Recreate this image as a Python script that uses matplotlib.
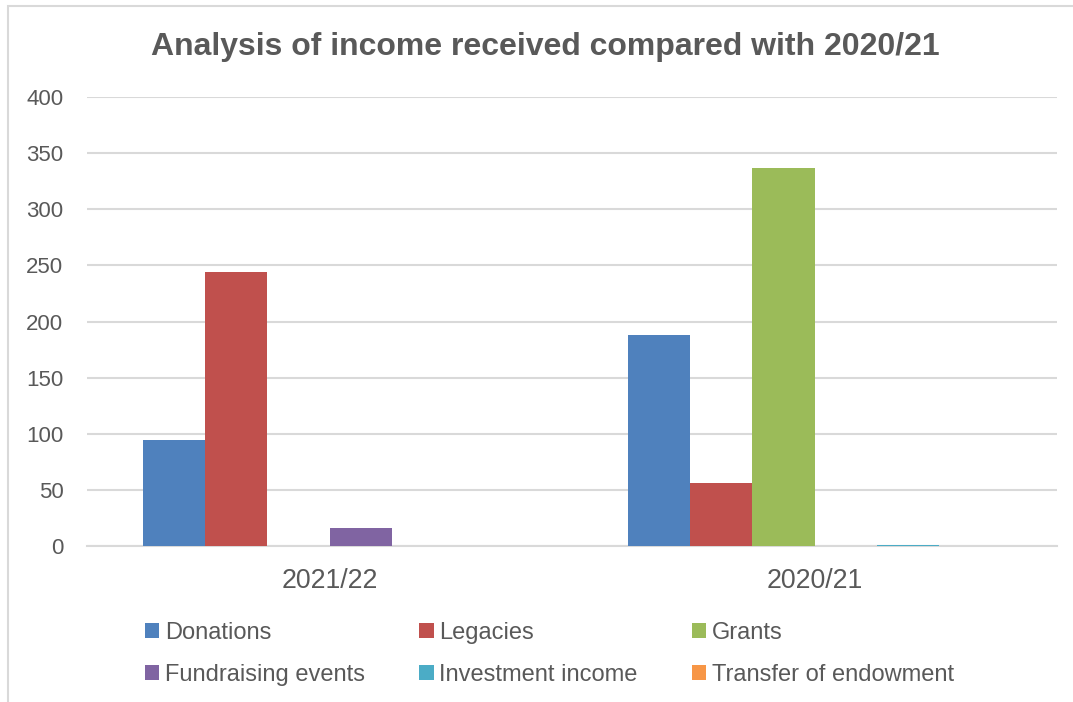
import numpy as np
import matplotlib
matplotlib.use("Agg")
import matplotlib.pyplot as plt
from matplotlib.patches import Rectangle

plt.rcParams['font.family'] = ['Liberation Sans', 'DejaVu Sans']

categories = ["2021/22", "2020/21"]
series = ["Donations", "Legacies", "Grants", "Fundraising events",
          "Investment income", "Transfer of endowment"]
donations = [94, 188]
legacies = [244, 56]
grants = [0, 337]
fundraising = [16, 0]
investment = [0, 1]
transfer = [0, 0]
colors = ["#4F81BD", "#C0504D", "#9BBB59", "#8064A2", "#4BACC6", "#F79646"]

values = [donations, legacies, grants, fundraising, investment, transfer]
text_col = "#595959"
grid_col = "#D9D9D9"

fig = plt.figure(figsize=(10.73, 7.02), dpi=100)
ax = fig.add_axes([87 / 1073, 1 - 546 / 702, 970 / 1073, 449 / 702])

x = np.arange(len(categories))
w = 0.1282
for i, (name, vals) in enumerate(zip(series, values)):
    ax.bar(x + (i - 2.5) * w, vals, width=w, color=colors[i], label=name,
           edgecolor='none', zorder=3)

ax.set_xlim(-0.5, 1.5)
ax.set_ylim(0, 400)
ax.set_yticks(np.arange(0, 401, 50))
ax.set_xticks(x)
ax.set_xticklabels(categories, fontsize=19.3, color=text_col)
ax.tick_params(axis='y', labelsize=16, labelcolor=text_col, length=0, pad=17)
ax.tick_params(axis='x', length=0, pad=16)
ax.grid(axis='y', color=grid_col, linewidth=1.5, zorder=0)
for s in ['top', 'right', 'left']:
    ax.spines[s].set_visible(False)
ax.spines['bottom'].set_color(grid_col)
ax.spines['bottom'].set_linewidth(1.5)

fig.text(545 / 1073, 1 - 47 / 702, "Analysis of income received compared with 2020/21",
         ha='center', va='center', fontsize=23, fontweight='bold', color=text_col)

# legend in row order like Excel
h, l = ax.get_legend_handles_labels()
order = [0, 3, 1, 4, 2, 5]
leg = fig.legend([h[k] for k in order], [l[k] for k in order],
                 loc='upper left', bbox_to_anchor=(145 / 1073, 1 - 622 / 702),
                 ncol=3, frameon=False, fontsize=17, handlelength=0.6,
                 handleheight=0.6, handletextpad=0.25, columnspacing=2.3,
                 labelspacing=0.85, borderpad=0, borderaxespad=0)
for t in leg.get_texts():
    t.set_color(text_col)

# outer chart border (cropped at right and bottom)
fig.patches.append(Rectangle((8 / 1073, -0.05), 1.1, 1 - 6 / 702 + 0.05,
                             transform=fig.transFigure, fill=False,
                             edgecolor=grid_col, linewidth=1.5))

fig.savefig("out.png", dpi=100)
